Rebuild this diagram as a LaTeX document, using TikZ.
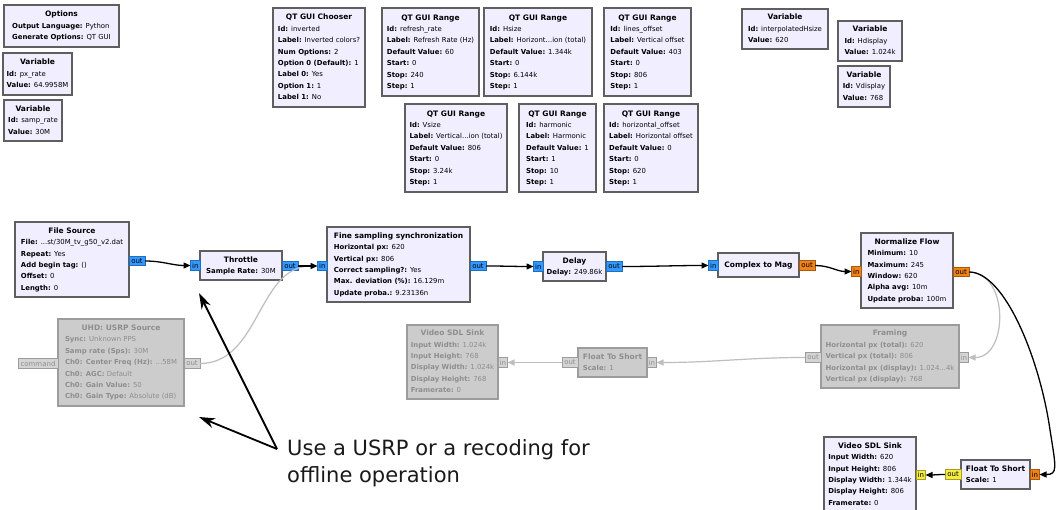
\documentclass[tikz,border=0pt]{standalone}
\usepackage{fontspec}
\setmainfont{DejaVu Sans}
\newfontfamily\grcfamily{DejaVu Sans}
\usetikzlibrary{arrows.meta}

% block text: bold title, "key: value" parameter lines
\newcommand\grcparam{\grcfamily\fontsize{6.9}{11.4}\selectfont}
\newcommand\grctitle{\fontsize{7.5}{11.4}\selectfont\bfseries}
\newcommand\grcportfont{\grcfamily\fontsize{7}{8}\selectfont}
\newcommand\kv[2]{\textbf{#1:} #2}
\newcommand\blk[2]{\begin{tabular}{@{}l@{}}\multicolumn{1}{@{}c@{}}{\grctitle #1}#2\end{tabular}}

\definecolor{blkfill}{HTML}{F0EEFF}
\definecolor{blkdraw}{HTML}{5F5F5F}
\definecolor{offfill}{HTML}{CCCCCC}
\definecolor{offdraw}{HTML}{9C9C9C}
\definecolor{offtext}{HTML}{8E8E8E}
\definecolor{offport}{HTML}{D4D4D4}
\definecolor{offline}{HTML}{BEBEBE}
\definecolor{cplx}{HTML}{3399FF}
\definecolor{cplxdraw}{HTML}{1F6EC0}
\definecolor{flt}{HTML}{F0821A}
\definecolor{fltdraw}{HTML}{A85A10}
\definecolor{shrt}{HTML}{F4EC45}
\definecolor{shrtdraw}{HTML}{A89F1C}
\definecolor{notetext}{HTML}{1A1A1A}

\begin{document}
\begin{tikzpicture}[x=1pt,y=-1pt,
  block/.style={draw=blkdraw, fill=blkfill, line width=1.2pt, anchor=north west,
    inner xsep=2pt, inner ysep=1pt, outer sep=0pt, font=\grcparam, text=black},
  offblock/.style={block, draw=offdraw, fill=offfill, text=offtext},
  portbox/.style={line width=0.8pt, inner sep=0pt, outer sep=0pt,
    minimum height=9.5pt, font=\grcportfont, text=black},
  inport/.style={portbox, minimum width=9.5pt},
  outport/.style={portbox, minimum width=16pt},
  ptc/.style={fill=cplx, draw=cplxdraw},
  ptf/.style={fill=flt, draw=fltdraw},
  pts/.style={fill=shrt, draw=shrtdraw},
  ptoff/.style={fill=offport, draw=offdraw, text=offtext},
  wire/.style={line width=1.3pt, black, -{Triangle[length=7pt,width=6pt]}},
  offwire/.style={line width=1.2pt, offline, -{Triangle[length=7pt,width=6pt]}},
  callout/.style={line width=1.8pt, black, -{Stealth[length=16pt,width=10pt,inset=5pt]}},
  notestyle/.style={anchor=north west, inner sep=0pt, align=left,
    font=\fontsize{21}{27}\selectfont, text=notetext}
]
\path[use as bounding box, fill=white] (0,0) rectangle (1056,510);

% ---------- variables and GUI widgets ----------
\node[block, minimum width=115, minimum height=42] (opt) at (4,5)
  {\blk{Options}{\\\kv{Output Language}{Python}\\\kv{Generate Options}{QT GUI}}};
\node[block, minimum width=69, minimum height=42] (pxr) at (3,53)
  {\blk{Variable}{\\\kv{Id}{px\_rate}\\\kv{Value}{64.9958M}}};
\node[block, minimum width=58, minimum height=41] (sr) at (4,100)
  {\blk{Variable}{\\\kv{Id}{samp\_rate}\\\kv{Value}{30M}}};

\node[block, minimum width=92, minimum height=99] (chooser) at (273,8)
  {\blk{QT GUI Chooser}{\\\kv{Id}{inverted}\\\kv{Label}{Inverted colors?}\\\kv{Num Options}{2}\\\kv{Option 0 (Default)}{1}\\\kv{Label 0}{Yes}\\\kv{Option 1}{1}\\\kv{Label 1}{No}}};
\node[block, minimum width=97, minimum height=88] (rr) at (382,8)
  {\blk{QT GUI Range}{\\\kv{Id}{refresh\_rate}\\\kv{Label}{Refresh Rate (Hz)}\\\kv{Default Value}{60}\\\kv{Start}{0}\\\kv{Stop}{240}\\\kv{Step}{1}}};
\node[block, minimum width=108, minimum height=88] (hs) at (484,8)
  {\blk{QT GUI Range}{\\\kv{Id}{Hsize}\\\kv{Label}{Horizont...ion (total)}\\\kv{Default Value}{1.344k}\\\kv{Start}{0}\\\kv{Stop}{6.144k}\\\kv{Step}{1}}};
\node[block, minimum width=87, minimum height=88] (lo) at (604,8)
  {\blk{QT GUI Range}{\\\kv{Id}{lines\_offset}\\\kv{Label}{Vertical offset}\\\kv{Default Value}{403}\\\kv{Start}{0}\\\kv{Stop}{806}\\\kv{Step}{1}}};
\node[block, minimum width=102, minimum height=88] (vs) at (405,104)
  {\blk{QT GUI Range}{\\\kv{Id}{Vsize}\\\kv{Label}{Vertical...ion (total)}\\\kv{Default Value}{806}\\\kv{Start}{0}\\\kv{Stop}{3.24k}\\\kv{Step}{1}}};
\node[block, minimum width=77, minimum height=88] (harm) at (519,104)
  {\blk{QT GUI Range}{\\\kv{Id}{harmonic}\\\kv{Label}{Harmonic}\\\kv{Default Value}{1}\\\kv{Start}{1}\\\kv{Stop}{10}\\\kv{Step}{1}}};
\node[block, minimum width=94, minimum height=88] (ho) at (604,104)
  {\blk{QT GUI Range}{\\\kv{Id}{horizontal\_offset}\\\kv{Label}{Horizontal offset}\\\kv{Default Value}{0}\\\kv{Start}{0}\\\kv{Stop}{620}\\\kv{Step}{1}}};

\node[block, minimum width=86, minimum height=40] (ih) at (742,9)
  {\blk{Variable}{\\\kv{Id}{interpolatedHsize}\\\kv{Value}{620}}};
\node[block, minimum width=64, minimum height=40] (hd) at (838,21)
  {\blk{Variable}{\\\kv{Id}{Hdisplay}\\\kv{Value}{1.024k}}};
\node[block, minimum width=52, minimum height=41] (vd) at (838,66)
  {\blk{Variable}{\\\kv{Id}{Vdisplay}\\\kv{Value}{768}}};

% ---------- signal chain ----------
\node[block, minimum width=114, minimum height=75] (fs) at (15,222)
  {\blk{File Source}{\\\kv{File}{...st/30M\_tv\_g50\_v2.dat}\\\kv{Repeat}{Yes}\\\kv{Add begin tag}{()}\\\kv{Offset}{0}\\\kv{Length}{0}}};
\node[block, minimum width=82, minimum height=29] (thr) at (200,251)
  {\blk{Throttle}{\\\kv{Sample Rate}{30M}}};
\node[offblock, minimum width=126, minimum height=87] (usrp) at (58,319)
  {\blk{UHD: USRP Source}{\\\kv{Sync}{Unknown PPS}\\\kv{Samp rate (Sps)}{30M}\\\kv{Ch0: Center Freq (Hz)}{...58M}\\\kv{Ch0: AGC}{Default}\\\kv{Ch0: Gain Value}{50}\\\kv{Ch0: Gain Type}{Absolute (dB)}}};
\node[block, minimum width=143, minimum height=75] (fine) at (327,227)
  {\blk{Fine sampling synchronization}{\\\kv{Horizontal px}{620}\\\kv{Vertical px}{806}\\\kv{Correct sampling?}{Yes}\\\kv{Max. deviation (\%)}{16.129m}\\\kv{Update proba.}{9.23136n}}};
\node[block, minimum width=63, minimum height=29] (delay) at (543,252)
  {\blk{Delay}{\\\kv{Delay}{249.86k}}};
\node[block, minimum width=81, minimum height=24] (c2m) at (718,253)
  {\blk{Complex to Mag}{}};
\node[block, minimum width=92, minimum height=75] (norm) at (861,233)
  {\blk{Normalize Flow}{\\\kv{Minimum}{10}\\\kv{Maximum}{245}\\\kv{Window}{620}\\\kv{Alpha avg}{10m}\\\kv{Update proba}{100m}}};
\node[offblock, minimum width=138, minimum height=63] (frm) at (821,325)
  {\blk{Framing}{\\\kv{Horizontal px (total)}{620}\\\kv{Vertical px (total)}{806}\\\kv{Horizontal px (display)}{1.024...4k}\\\kv{Vertical px (display)}{768}}};
\node[offblock, minimum width=69, minimum height=29] (fts2) at (578,348)
  {\blk{Float To Short}{\\\kv{Scale}{1}}};
\node[offblock, minimum width=91, minimum height=74] (vsink2) at (407,325)
  {\blk{Video SDL Sink}{\\\kv{Input Width}{1.024k}\\\kv{Input Height}{768}\\\kv{Display Width}{1.024k}\\\kv{Display Height}{768}\\\kv{Framerate}{0}}};
\node[block, minimum width=69, minimum height=29] (fts) at (961,460)
  {\blk{Float To Short}{\\\kv{Scale}{1}}};
\node[block, minimum width=92, minimum height=75] (vsink) at (824,437)
  {\blk{Video SDL Sink}{\\\kv{Input Width}{620}\\\kv{Input Height}{806}\\\kv{Display Width}{1.344k}\\\kv{Display Height}{806}\\\kv{Framerate}{0}}};

% ---------- ports ----------
\node[outport, ptc, anchor=west] (fs-out) at (129,261) {out};
\node[inport, ptc, anchor=east] (thr-in) at (200,265.5) {in};
\node[outport, ptc, anchor=west] (thr-out) at (282,266) {out};
\node[inport, ptc, anchor=east] (fine-in) at (327,266) {in};
\node[outport, ptc, anchor=west] (fine-out) at (470,266) {out};
\node[inport, ptc, anchor=east] (delay-in) at (543,266.5) {in};
\node[outport, ptc, anchor=west] (delay-out) at (606,266.5) {out};
\node[inport, ptc, anchor=east] (c2m-in) at (718,265.5) {in};
\node[outport, ptf, anchor=west] (c2m-out) at (799,265.5) {out};
\node[inport, ptf, anchor=east] (norm-in) at (861,271.5) {in};
\node[outport, ptf, anchor=west] (norm-out) at (953,272) {out};
\node[inport, ptoff, anchor=west] (frm-in) at (959,357.5) {in};
\node[outport, ptoff, anchor=east] (frm-out) at (821,357.5) {out};
\node[inport, ptoff, anchor=west] (fts2-in) at (647,362.5) {in};
\node[outport, ptoff, anchor=east] (fts2-out) at (578,362.5) {out};
\node[inport, ptoff, anchor=west] (vsink2-in) at (498,362.5) {in};
\node[portbox, ptoff, minimum width=40pt, anchor=east] (usrp-cmd) at (58,363.5) {command};
\node[outport, ptoff, anchor=west] (usrp-out) at (184,363.5) {out};
\node[inport, ptf, anchor=west] (fts-in) at (1030,474.5) {in};
\node[outport, pts, anchor=east] (fts-out) at (961,474.5) {out};
\node[inport, pts, anchor=west] (vsink-in) at (916,475) {in};

% ---------- connections ----------
\draw[offwire] (usrp-out.east) to[out=0,in=180] (fine-in.west);
\draw[offwire] (norm-out.east) to[out=0,in=0,looseness=1.2] (frm-in.east);
\draw[offwire] (frm-out.west) to[out=180,in=0] (fts2-in.east);
\draw[offwire] (fts2-out.west) -- (vsink2-in.east);
\draw[wire] (fs-out.east) to[out=0,in=180] (thr-in.west);
\draw[wire] (thr-out.east) -- (fine-in.west);
\draw[wire] (fine-out.east) to[out=0,in=180] (delay-in.west);
\draw[wire] (delay-out.east) to[out=0,in=180] (c2m-in.west);
\draw[wire] (c2m-out.east) to[out=0,in=180] (norm-in.west);
\draw[wire] (norm-out.east) .. controls (1005,272) and (1040,360) .. (1050,430)
  .. controls (1056,468) and (1058,474.5) .. (fts-in.east);
\draw[wire] (fts-out.west) to[out=180,in=0] (vsink-in.east);

% ---------- note ----------
\node[notestyle] (note) at (287,439) {Use a USRP or a recoding for\\offline operation};
\coordinate (annfrom) at (277,449);
\coordinate (annto1) at (199,293);
\coordinate (annto2) at (199,417);
\draw[callout] (annfrom) -- (annto1);
\draw[callout] (annfrom) -- (annto2);
\end{tikzpicture}
\end{document}
